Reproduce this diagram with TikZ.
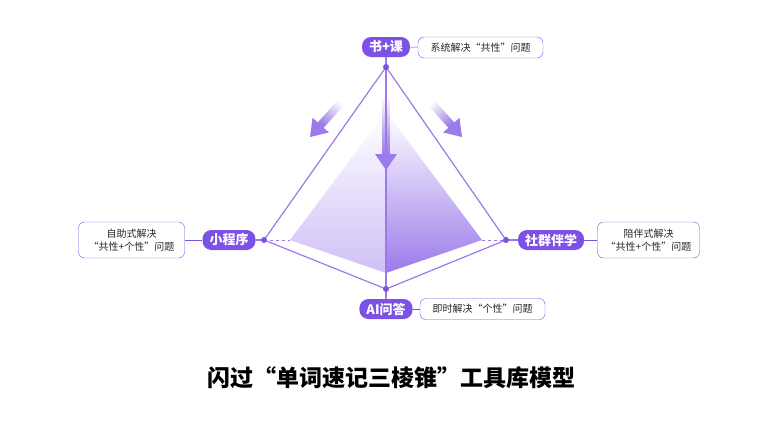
\documentclass[tikz,border=0pt]{standalone}
\usepackage{fontspec}
\setmainfont{Noto Sans CJK SC}
\usetikzlibrary{arrows.meta,shadings,fadings}
\definecolor{pur}{HTML}{7B52E3}
\definecolor{lpur}{HTML}{E6DDFA}
\definecolor{mpur}{HTML}{9B7BEA}
\tikzset{
  pill/.style={fill=pur,text=white,rounded corners=9pt,minimum height=20pt,inner xsep=7pt,font=\bfseries\fontsize{13}{13}\selectfont},
  tbox/.style={draw=pur,fill=white,rounded corners=6pt,align=center,font=\fontsize{10}{12.5}\selectfont,text=black!85,inner xsep=5pt,inner ysep=3pt},
  edge/.style={draw=mpur,line width=1.2pt},
  dot/.style={circle,fill=pur,inner sep=0pt,minimum size=6pt},
}
\tikzfading[name=tailfade,top color=transparent!100,bottom color=transparent!0]
\begin{document}
\begin{tikzpicture}[x=1pt,y=-1pt]
\useasboundingbox (0,0) rectangle (782,426);
\fill[white] (0,0) rectangle (782,426);
\coordinate (T) at (386,67);
\coordinate (L) at (264,240);
\coordinate (R) at (506,240);
\coordinate (B) at (386,289);
\coordinate (IT) at (386,112);
% inner faces
\shade[top color=white,bottom color=lpur!70!mpur] (IT) -- (290,240) -- (386,273) -- cycle;
\shade[top color=white,bottom color=mpur] (IT) -- (482,240) -- (386,273) -- cycle;
\draw[mpur,dashed,line width=1pt] (L) -- (290,240);
\draw[mpur,dashed,line width=1pt] (482,240) -- (R);
% edges
\draw[edge] (T) -- (L) -- (B) -- (R) -- cycle;
\draw[edge] (T) -- (B);
% arrows
\begin{scope}[shift={(386,170)}]
\fill[mpur,path fading=tailfade] (-4,-75) rectangle (4,-15);
\fill[mpur] (-11,-16) -- (11,-16) -- (0,0) -- cycle;
\end{scope}
\begin{scope}[shift={(310,137)},rotate=-42]
\fill[mpur,path fading=tailfade,fading transform={rotate=-42}] (-4,-48) rectangle (4,-15);
\fill[mpur] (-11,-16) -- (11,-16) -- (0,0) -- cycle;
\end{scope}
\begin{scope}[shift={(462,137)},rotate=42]
\fill[mpur,path fading=tailfade,fading transform={rotate=42}] (-4,-48) rectangle (4,-15);
\fill[mpur] (-11,-16) -- (11,-16) -- (0,0) -- cycle;
\end{scope}
% nodes
\node[pill] (sk) at (386,47) {书+课};
\node[pill] (xc) at (229,240) {小程序};
\node[pill] (sq) at (551,240) {社群伴学};
\node[pill] (ai) at (386,309) {AI问答};
\node[tbox,minimum height=21pt,minimum width=125pt] (sb) at (480.5,47.5) {系统解决“共性”问题};
\node[tbox,minimum height=21pt,minimum width=125pt] (ab) at (482.5,309) {即时解决“个性”问题};
\node[tbox,minimum height=36pt,text width=96pt] (xb) at (131.5,240) {自助式解决\\“共性+个性”问题};
\node[tbox,minimum height=36pt,text width=92pt] (qb) at (648.5,240) {陪伴式解决\\“共性+个性”问题};
\draw[pur] (sk) -- (sb);
\draw[pur] (ai) -- (ab);
\draw[pur] (xc) -- (xb);
\draw[pur] (sq) -- (qb);
\draw[edge] (sk) -- (T);
\draw[edge] (ai) -- (B);
\draw[edge] (xc) -- (L);
\draw[edge] (sq) -- (R);
\node[dot] at (T) {};
\node[dot] at (L) {};
\node[dot] at (R) {};
\node[dot] at (B) {};
\node[font=\bfseries\fontsize{23}{23}\selectfont] (title) at (391,378) {闪过“单词速记三棱锥”工具库模型};
\end{tikzpicture}
\end{document}
